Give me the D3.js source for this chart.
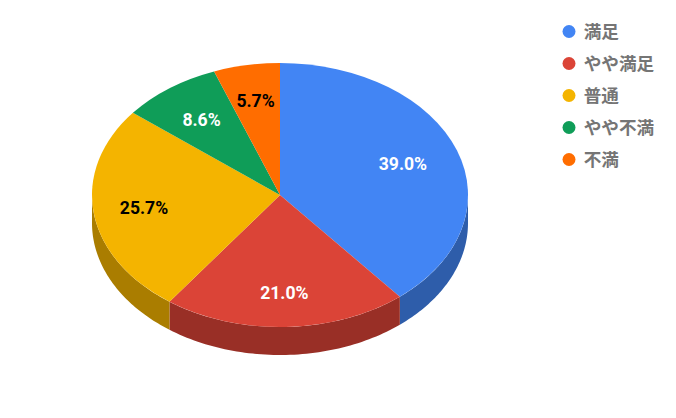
<!DOCTYPE html>
<html><head><meta charset="utf-8">
<script src="https://cdn.jsdelivr.net/npm/d3@7"></script>
<style>html,body{margin:0;padding:0;background:#fff}svg{display:block}
text{font-family:Roboto,"Noto Sans CJK JP",sans-serif;font-weight:700}</style>
</head><body><div id="c"></div>
<script>
const categories = ["満足","やや満足","普通","やや不満","不満"];
const values = [39.0,21.0,25.7,8.6,5.7];
const colors = ["#4285f4","#db4437","#f4b400","#0f9d58","#ff6d00"];
const sideColors = ["#2e5daa","#992f26","#aa7d00","#0a6d3d","#b24c00"];
const labelColors = ["#fff","#fff","#000","#fff","#000"];
// Radial placement of each percent label, as a share of the pie radius
const labelRadius = [0.695,0.743,0.73,0.71,0.73];

const W=676,H=418,cx=280,cy=195,rx=188,ry=132,depth=28,fs=17.6;
const svg=d3.select("#c").append("svg").attr("width",W).attr("height",H);
const slices=d3.pie().sort(null)(values);

const px=a=>cx+rx*Math.sin(a), py=a=>cy-ry*Math.cos(a);
const line=d3.line();

// Side walls: only the part of each slice facing the viewer (90°..270°)
const side=svg.append("g");
slices.forEach((s,i)=>{
  const a0=Math.max(s.startAngle,Math.PI/2), a1=Math.min(s.endAngle,Math.PI*1.5);
  if(a1<=a0) return;
  const angs=d3.range(0,61).map(k=>a0+(a1-a0)*k/60);
  const pts=angs.map(a=>[px(a),py(a)]).concat(angs.slice().reverse().map(a=>[px(a),py(a)+depth]));
  side.append("path").attr("d",line(pts)+"Z").attr("fill",sideColors[i]);
});

// Top face
const arc=d3.arc().innerRadius(0).outerRadius(rx);
svg.append("g").attr("transform",`translate(${cx},${cy}) scale(1,${ry/rx})`)
  .selectAll("path").data(slices).join("path")
  .attr("d",arc).attr("fill",(d,i)=>colors[i]);

// Percent labels
svg.append("g").selectAll("text").data(slices).join("text")
  .attr("x",(d,i)=>cx+rx*labelRadius[i]*Math.sin((d.startAngle+d.endAngle)/2))
  .attr("y",(d,i)=>cy-ry*labelRadius[i]*Math.cos((d.startAngle+d.endAngle)/2))
  .attr("dy","0.36em").attr("text-anchor","middle").attr("font-size",fs)
  .attr("fill",(d,i)=>labelColors[i])
  .text(d=>d.value.toFixed(1)+"%");

// Legend
const ly=d3.scalePoint().domain(categories).range([31.5,159.5]);
const lg=svg.append("g").selectAll("g").data(categories).join("g")
  .attr("transform",d=>`translate(569,${ly(d)})`);
lg.append("circle").attr("r",6.5).attr("fill",(d,i)=>colors[i]);
lg.append("text").attr("x",14.7).attr("dy","0.36em").attr("font-size",fs).attr("fill","#757575").text(d=>d);
</script></body></html>
